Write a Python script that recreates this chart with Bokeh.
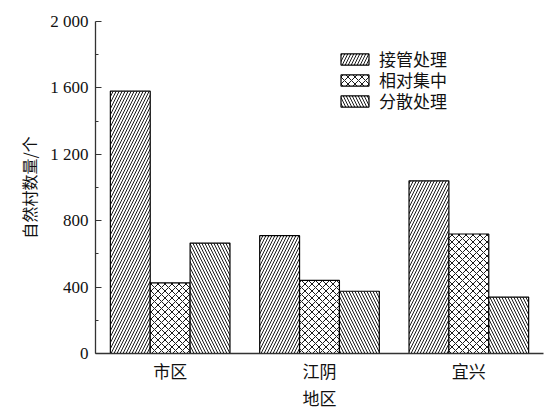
from bokeh.plotting import figure
from bokeh.models import FactorRange, Range1d, FixedTicker, ColumnDataSource, Legend, LegendItem
from bokeh.transform import dodge
from bokeh.embed import file_html
from bokeh.resources import INLINE

regions = ["市区", "江阴", "宜兴"]
series_names = ["接管处理", "相对集中", "分散处理"]
jieguan = [1580, 710, 1040]
xiangdui = [425, 440, 720]
fensan = [665, 375, 340]
y_ticks = [0, 400, 800, 1200, 1600, 2000]
y_minor = [200, 600, 1000, 1400, 1800]
y_tick_labels = ["0", "400", "800", "1 200", "1 600", "2 000"]
x_title = "地区"
y_title = "自然村数量/个"

src = ColumnDataSource(dict(region=regions, a=jieguan, b=xiangdui, c=fensan))

SERIF = "Liberation Serif"
CJK = "Noto Sans CJK SC"
LEG_FONT = "Liberation Serif, Noto Sans CJK SC"

p = figure(x_range=FactorRange(*regions, range_padding=0), y_range=Range1d(0, 2000),
           frame_width=448, frame_height=332, output_backend="svg", toolbar_location=None,
           min_border_left=95, min_border_right=5, min_border_top=21, min_border_bottom=55)
p.outline_line_color = None
p.grid.visible = False

w = 0.267
hatches = ["right_diagonal_line", "diagonal_cross", "left_diagonal_line"]
scales = [6, 7, 6]
cols = ["a", "b", "c"]
offs = [-w, 0, w]
rends = []
for col, off, hp, hs in zip(cols, offs, hatches, scales):
    r = p.vbar(x=dodge("region", off, range=p.x_range), top=col, width=w, source=src,
               fill_color="white", line_color="black", line_width=1.2,
               hatch_pattern=hp, hatch_scale=hs, hatch_color="black", hatch_weight=0.9)
    rends.append(r)

# one single-row legend per series so that the row pitch can be tighter
legend_y = [282, 261, 240]
for n, r, ly in zip(series_names, rends, legend_y):
    lg = Legend(items=[LegendItem(label=n, renderers=[r])],
                location=(242, ly), padding=0, margin=0, spacing=0,
                glyph_width=35, glyph_height=14, label_standoff=7,
                border_line_color=None, background_fill_alpha=0,
                label_text_font=LEG_FONT, label_text_font_size="17px", label_text_color="#111111")
    p.add_layout(lg, "center")

ax = p.yaxis[0]
ax.ticker = FixedTicker(ticks=y_ticks, minor_ticks=y_minor)
ax.major_label_overrides = {t: l for t, l in zip(y_ticks, y_tick_labels)}
ax.major_tick_in = 6
ax.major_tick_out = 0
ax.minor_tick_in = 3
ax.minor_tick_out = 0
ax.axis_label = y_title
ax.axis_label_text_font = CJK
ax.axis_label_text_font_style = "normal"
ax.axis_label_text_font_size = "16px"
ax.axis_label_standoff = 6
ax.major_label_text_font = SERIF
ax.major_label_text_font_size = "17px"
ax.major_label_standoff = 7

bx = p.xaxis[0]
bx.major_tick_in = 5
bx.major_tick_out = 0
bx.axis_label = x_title
bx.axis_label_text_font = CJK
bx.axis_label_text_font_style = "normal"
bx.axis_label_text_font_size = "17px"
bx.axis_label_standoff = -1
bx.major_label_text_font = CJK
bx.major_label_text_font_size = "17px"
bx.major_label_standoff = 4

for a in (ax, bx):
    a.axis_line_color = "#333333"
    a.axis_line_width = 1.3
    a.major_tick_line_color = "#333333"
    a.minor_tick_line_color = "#333333"
    a.major_label_text_color = "#111111"
    a.axis_label_text_color = "#111111"

open("out.html", "w").write(file_html(p, INLINE))
